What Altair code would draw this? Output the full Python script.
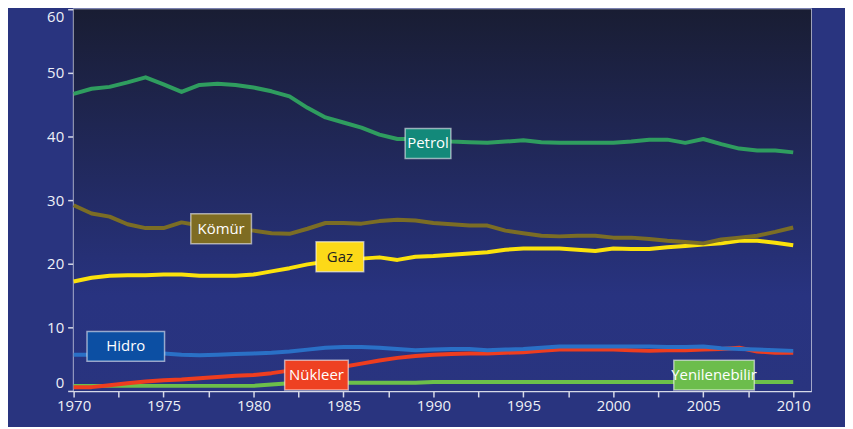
import altair as alt
import pandas as pd

years = list(range(1970, 2011))

petrol = [46.7, 47.5, 47.8, 48.5, 49.3, 48.2, 47.0, 48.1, 48.3, 48.1,
          47.7, 47.1, 46.3, 44.5, 43.0, 42.2, 41.4, 40.3, 39.6, 39.6,
          39.4, 39.2, 39.1, 39.0, 39.2, 39.4, 39.1, 39.0, 39.0, 39.0,
          39.0, 39.2, 39.5, 39.5, 39.0, 39.6, 38.8, 38.1, 37.8, 37.8,
          37.5]
komur = [29.2, 27.9, 27.4, 26.2, 25.6, 25.6, 26.5, 26.0, 25.6, 25.4,
         25.2, 24.8, 24.7, 25.5, 26.4, 26.4, 26.3, 26.7, 26.9, 26.8,
         26.4, 26.2, 26.0, 26.0, 25.2, 24.8, 24.4, 24.3, 24.4, 24.4,
         24.1, 24.1, 23.9, 23.6, 23.4, 23.2, 23.8, 24.1, 24.4, 25.0,
         25.7]
gaz = [17.2, 17.8, 18.1, 18.2, 18.2, 18.3, 18.3, 18.1, 18.1, 18.1,
       18.3, 18.8, 19.3, 19.9, 20.3, 20.6, 20.8, 21.0, 20.6, 21.1,
       21.2, 21.4, 21.6, 21.8, 22.2, 22.4, 22.4, 22.4, 22.2, 22.0,
       22.4, 22.3, 22.3, 22.6, 22.8, 23.0, 23.2, 23.6, 23.6, 23.3,
       22.9]
hidro = [5.7, 5.7, 5.8, 5.8, 5.9, 5.9, 5.7, 5.6, 5.7, 5.8,
         5.9, 6.0, 6.2, 6.5, 6.8, 6.9, 6.9, 6.8, 6.6, 6.4,
         6.5, 6.6, 6.6, 6.4, 6.5, 6.6, 6.8, 7.0, 7.0, 7.0,
         7.0, 7.0, 7.0, 6.9, 6.9, 7.0, 6.7, 6.6, 6.5, 6.4,
         6.3]
nukleer = [0.6, 0.6, 0.9, 1.2, 1.5, 1.7, 1.8, 2.0, 2.2, 2.4,
           2.5, 2.8, 3.2, 3.5, 3.7, 3.8, 4.3, 4.8, 5.2, 5.5,
           5.7, 5.8, 5.9, 5.9, 6.0, 6.1, 6.3, 6.5, 6.5, 6.5,
           6.5, 6.4, 6.3, 6.4, 6.4, 6.5, 6.6, 6.8, 6.2, 6.0,
           6.0]
yenilenebilir = [0.8, 0.8, 0.8, 0.8, 0.8, 0.8, 0.8, 0.8, 0.8, 0.8,
                 0.8, 1.0, 1.2, 1.3, 1.3, 1.3, 1.3, 1.3, 1.3, 1.3,
                 1.4, 1.4, 1.4, 1.4, 1.4, 1.4, 1.4, 1.4, 1.4, 1.4,
                 1.4, 1.4, 1.4, 1.4, 1.4, 1.4, 1.4, 1.4, 1.4, 1.4,
                 1.4]

series_names = ["Yenilenebilir", "Nükleer", "Hidro", "Gaz", "Kömür", "Petrol"]
series_values = [yenilenebilir, nukleer, hidro, gaz, komur, petrol]
line_colors = ["#6cbf4a", "#ee3d1f", "#2a70c6", "#fbe20c", "#7b6d25", "#2f9d5f"]

# Label boxes
label_names = ["Petrol", "Kömür", "Gaz", "Hidro", "Nükleer", "Yenilenebilir"]
label_years = [1989.7, 1978.2, 1984.8, 1972.9, 1983.5, 2005.6]
label_values = [38.9, 25.5, 21.1, 7.0, 2.5, 2.5]
label_fills = ["#13897a", "#7e6c22", "#fcd918", "#0c4fa3", "#ee4122", "#6cbd4c"]
label_text_colors = ["#ffffff", "#ffffff", "#222222", "#ffffff", "#ffffff", "#ffffff"]
label_box_widths = [46, 61, 48, 78, 64, 81]

x_ticks = [1970 + 1.25 * k for k in range(33)]
y_ticks = list(range(0, 61, 5))

W, H = 742, 384

rows = []
for name, vals in zip(series_names, series_values):
    for yr, v in zip(years, vals):
        rows.append({"Yıl": yr, "Değer": v, "Kaynak": name})
df = pd.DataFrame(rows)

labels_df = pd.DataFrame({
    "name": label_names, "year": label_years, "value": label_values,
    "fill": label_fills, "tc": label_text_colors,
})

x_scale = alt.Scale(domain=[1970, 2011.0], nice=False, zero=False)
y_scale = alt.Scale(domain=[0, 60], nice=False)

bg = alt.Chart(pd.DataFrame({"a": [0]})).mark_rect(
    fill=alt.Gradient(
        gradient="linear",
        stops=[alt.GradientStop(offset=0, color="#191d33"),
               alt.GradientStop(offset=0.75, color="#283380"),
               alt.GradientStop(offset=1, color="#29347f")],
        x1=0, x2=0, y1=0, y2=1,
    )
).encode(x=alt.value(0), x2=alt.value(W), y=alt.value(0), y2=alt.value(H))

lines = alt.Chart(df).mark_line(strokeWidth=4, strokeJoin="round").encode(
    x=alt.X("Yıl:Q", scale=x_scale,
            axis=alt.Axis(values=x_ticks, title=None, grid=False,
                          labelExpr="datum.value % 5 == 0 ? format(datum.value, 'd') : ''",
                          labelOverlap=False, labelFlush=False,
                          tickSize=6, labelPadding=2)),
    y=alt.Y("Değer:Q", scale=y_scale,
            axis=alt.Axis(values=y_ticks, title=None, grid=False,
                          labelExpr="datum.value % 10 == 0 ? format(datum.value, 'd') : ''",
                          labelOverlap=False, labelFlush=True,
                          tickSize=6, labelPadding=4)),
    color=alt.Color("Kaynak:N", scale=alt.Scale(domain=series_names, range=line_colors),
                    legend=None),
    order=alt.Order("Yıl:Q"),
    detail="Kaynak:N",
)

layers = [bg, lines]
for i in range(len(label_names)):
    d = labels_df.iloc[[i]]
    box = alt.Chart(d).mark_rect(
        width=label_box_widths[i], height=30,
        stroke="#ffffff", strokeOpacity=0.55, strokeWidth=1.5,
    ).encode(
        x=alt.X("year:Q", scale=x_scale),
        y=alt.Y("value:Q", scale=y_scale),
        fill=alt.Fill("fill:N", scale=None),
    )
    txt = alt.Chart(d).mark_text(font="Open Sans", fontSize=15, baseline="middle",
                                 align="center").encode(
        x=alt.X("year:Q", scale=x_scale),
        y=alt.Y("value:Q", scale=y_scale),
        text="name:N",
        color=alt.Color("tc:N", scale=None),
    )
    layers += [box, txt]

chart = alt.layer(*layers).properties(
    width=W, height=H,
    autosize=alt.AutoSizeParams(type="none"),
    padding={"left": 66, "top": 0, "right": 34, "bottom": 35},
    background="#29347f",
).configure_view(
    stroke="#c9cce0", strokeWidth=1.5, fill=None,
).configure_axis(
    domainColor="#d6d9e8", domainWidth=1.5, tickColor="#d6d9e8", tickWidth=1.5,
    labelColor="#eef0f7", labelFont="Open Sans", labelFontSize=15,
)

chart.save("out.html", embed_options={"renderer": "svg", "actions": False})
